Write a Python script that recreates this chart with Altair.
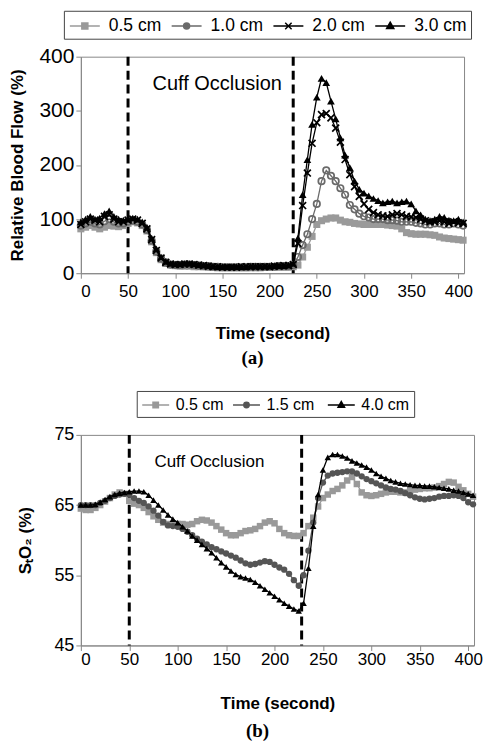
import altair as alt
import pandas as pd

# ---------------- data ----------------
T = list(range(0, 406, 5))  # sample times (s), 0..405

A_NAMES = ["0.5 cm", "1.0 cm", "2.0 cm", "3.0 cm"]
A05 = [82, 85, 88, 85, 82, 85, 88, 87, 86, 88,
       92, 95, 93, 88, 78, 58, 38, 25, 18, 15,
       14, 13, 13, 13, 12, 12, 12, 11, 11, 10,
       10, 10, 10, 10, 10, 10, 10, 10, 10, 11,
       11, 11, 11, 11, 11, 12, 15, 30, 48, 68,
       90, 97, 100, 102, 102, 98, 95, 94, 92, 91,
       90, 90, 90, 90, 90, 89, 88, 87, 82, 75,
       73, 72, 72, 72, 71, 70, 67, 65, 64, 63,
       62, 61]
A10 = [88, 92, 95, 92, 90, 96, 100, 95, 92, 92,
       95, 97, 95, 90, 80, 60, 40, 27, 20, 16,
       15, 15, 16, 16, 15, 14, 13, 13, 12, 12,
       11, 11, 11, 11, 11, 11, 12, 12, 12, 12,
       12, 12, 13, 13, 13, 15, 30, 52, 72, 100,
       128, 170, 190, 180, 170, 157, 145, 126, 118, 110,
       105, 103, 100, 100, 100, 98, 98, 97, 95, 95,
       95, 93, 92, 90, 90, 92, 92, 90, 90, 92,
       90, 88]
A20 = [90, 95, 100, 98, 95, 105, 108, 100, 95, 95,
       98, 100, 98, 92, 82, 62, 42, 28, 20, 17,
       16, 16, 17, 17, 16, 15, 14, 13, 12, 12,
       11, 11, 11, 11, 12, 12, 12, 12, 12, 12,
       12, 13, 13, 14, 14, 16, 55, 125, 185, 240,
       278, 293, 295, 287, 268, 242, 210, 182, 160, 142,
       128, 118, 112, 108, 106, 105, 108, 110, 108, 105,
       104, 103, 100, 97, 95, 95, 97, 95, 92, 95,
       93, 92]
A30 = [95, 100, 105, 100, 102, 110, 115, 105, 100, 98,
       100, 102, 100, 95, 85, 65, 45, 30, 22, 18,
       17, 17, 18, 18, 17, 16, 15, 14, 13, 12,
       12, 12, 12, 12, 12, 12, 13, 13, 13, 13,
       13, 14, 14, 14, 15, 18, 65, 145, 210, 275,
       325, 360, 352, 318, 285, 250, 218, 195, 170, 155,
       148, 143, 138, 134, 130, 132, 133, 130, 132, 133,
       128, 115, 108, 100, 97, 100, 105, 103, 98, 97,
       100, 95]

B_NAMES = ["0.5 cm", "1.5  cm", "4.0 cm"]
B05 = [64.5, 64.3, 64.3, 64.6, 65.0, 65.5, 66.0, 66.5, 66.8, 66.6,
       65.6, 65.2, 65.0, 64.6, 64.0, 63.4, 62.9, 62.5, 62.3, 62.2,
       62.3, 62.3, 62.2, 62.3, 62.7, 62.9, 62.8, 62.5, 62.0, 61.5,
       61.0, 60.7, 60.7, 61.0, 61.3, 61.4, 61.6, 62.0, 62.5, 62.7,
       62.4, 61.6, 61.0, 60.7, 60.6, 60.6, 61.0, 62.0, 63.2, 64.8,
       66.0, 66.5, 67.0, 67.3, 67.8, 68.5, 69.0, 68.0, 66.8, 66.4,
       66.3, 66.4, 66.6, 66.8, 66.9, 66.9, 66.8, 66.8, 67.0, 67.2,
       67.3, 67.4, 67.4, 67.5, 67.7, 68.0, 68.3, 68.2, 67.6, 67.1,
       66.6, 66.2]
B15 = [65.0, 65.0, 65.0, 65.0, 65.3, 65.6, 66.0, 66.3, 66.5, 66.6,
       66.5, 66.0, 65.6, 65.3, 64.8, 64.2, 63.5, 62.6, 62.1, 62.0,
       61.9, 61.6, 61.2, 60.7, 60.2, 59.8, 59.4, 59.0, 58.7, 58.4,
       58.1, 57.8, 57.5, 57.1, 56.7, 56.5, 56.6, 56.8, 57.0, 56.9,
       56.5, 56.1, 55.8, 55.2, 54.3, 53.5, 55.0, 58.5, 62.5, 66.0,
       68.2, 69.2, 69.5, 69.6, 69.7, 69.8, 69.8, 69.5, 69.1, 68.7,
       68.4, 68.1, 67.8, 67.5, 67.3, 67.2, 67.0, 66.7, 66.4, 66.1,
       65.9, 65.8, 65.9, 66.0, 66.2, 66.3, 66.3, 66.4, 66.3, 66.0,
       65.4, 65.1]
B40 = [65.0, 65.0, 65.0, 65.1, 65.4, 65.8, 66.2, 66.5, 66.7, 66.8,
       66.9, 67.0, 67.0, 66.9, 66.4, 65.7, 65.0, 64.3, 63.6, 63.0,
       62.5, 61.9, 61.3, 60.6, 60.0, 59.4, 58.8, 58.2, 57.5, 56.8,
       56.2, 55.6, 55.1, 54.8, 54.6, 54.4, 54.0, 53.5, 53.0, 52.5,
       52.0, 51.5, 51.0, 50.6, 50.2, 49.9, 51.0, 56.0, 62.0, 66.5,
       70.0, 71.8, 72.2, 72.2, 72.0, 71.7, 71.3, 71.0, 70.7, 70.4,
       70.0, 69.5, 69.1, 68.8, 68.5, 68.3, 68.1, 68.0, 67.9, 67.8,
       67.8, 67.7, 67.7, 67.6, 67.5, 67.4, 67.3, 67.1, 67.0, 66.8,
       66.6, 66.4]

X_TICKS = [0, 50, 100, 150, 200, 250, 300, 350, 400]
A_YTICKS = [0, 100, 200, 300, 400]
B_YTICKS = [45, 55, 65, 75]
A_EVENTS = [50, 225]
B_EVENTS = [50, 228]
NOTE_LABEL = ["Cuff Occlusion"]
A_NOTE_T, A_NOTE_V = [76], [350]
B_NOTE_T, B_NOTE_V = [76], [71.1]

FONT = "Liberation Sans"

# styles
A_COLORS = ["#9a9a9a", "#6a6a6a", "#000000", "#000000"]
A_SHAPES = ["square", "circle", "M-1,-1L1,1M-1,1L1,-1", "triangle-up"]
A_FILLED = [True, False, False, True]
A_SIZES = [50, 42, 48, 60]
B_COLORS = ["#999999", "#555555", "#000000"]
B_SHAPES = ["square", "circle", "triangle-up"]
B_FILLED = [True, True, True]
B_SIZES = [42, 40, 42]

LEG_SQ = "M-1.5,0H1.5M-0.3,-0.3H0.3V0.3H-0.3Z"
LEG_CI = "M-1.5,0H1.5M-0.3,0A0.3,0.3 0 1,0 0.3,0A0.3,0.3 0 1,0 -0.3,0Z"
LEG_X = "M-1.5,0H1.5M-0.32,-0.32L0.32,0.32M-0.32,0.32L0.32,-0.32"
LEG_TR = "M-1.5,0H1.5M0,-0.38L0.36,0.26H-0.36Z"
A_LEG = [LEG_SQ, LEG_CI, LEG_X, LEG_TR]
B_LEG = [LEG_SQ, LEG_CI, LEG_TR]


def long_df(names, series):
    rows = []
    for n, vals in zip(names, series):
        assert len(vals) == len(T), (n, len(vals))
        for t, v in zip(T, vals):
            rows.append({"series": n, "t": t, "v": v})
    return pd.DataFrame(rows)


def panel(names, series, colors, shapes, filled, sizes, leg_paths, events,
          note_t, note_v, note_size, ydom, yticks, ytitle, ylabel_size,
          ytitle_pad, xlabel_pad, xtitle_pad, width, height, caption,
          caption_offset, leg):
    df = long_df(names, series)
    x = alt.X("t:Q", scale=alt.Scale(domain=[0, 406], nice=False),
              axis=alt.Axis(values=X_TICKS, title="Time (second)", grid=False,
                            labelFont=FONT, labelFontSize=17, titleFont=FONT,
                            titleFontSize=17, titleFontWeight="bold",
                            tickSize=5, labelPadding=xlabel_pad,
                            titlePadding=xtitle_pad,
                            domainColor="#888888", tickColor="#888888",
                            labelColor="black", titleColor="black"))
    y = alt.Y("v:Q", scale=alt.Scale(domain=ydom, nice=False),
              axis=alt.Axis(values=yticks, title=ytitle, grid=False,
                            labelFont=FONT, labelFontSize=ylabel_size,
                            titleFont=FONT, titleFontSize=17,
                            titleFontWeight="bold", tickSize=5,
                            labelPadding=2, titlePadding=ytitle_pad,
                            domainColor="#888888", tickColor="#888888",
                            labelColor="black", titleColor="black"))
    layers = []
    layers.append(
        alt.Chart(pd.DataFrame({"t": events}))
        .mark_rule(color="black", strokeWidth=3, strokeDash=[9, 5])
        .encode(x=x)
    )
    for n, c, sh, fl, sz in zip(names, colors, shapes, filled, sizes):
        sub = alt.Chart(df).transform_filter(alt.datum.series == n)
        layers.append(sub.mark_line(color=c, strokeWidth=1.3).encode(x=x, y=y))
        layers.append(
            sub.mark_point(shape=sh, filled=fl, color=c, size=sz, opacity=1,
                           strokeWidth=1.7).encode(x=x, y=y)
        )
    layers.append(
        alt.Chart(pd.DataFrame({"label": NOTE_LABEL, "t": note_t, "v": note_v}))
        .mark_text(align="left", baseline="middle", font=FONT,
                   fontSize=note_size, color="black")
        .encode(x=x, y=y, text="label:N")
    )
    legend = alt.Legend(**leg)
    layers.append(
        alt.Chart(pd.DataFrame({"series": names}))
        .mark_point(filled=True, opacity=0)
        .encode(
            color=alt.Color("series:N", scale=alt.Scale(domain=names, range=colors), legend=legend),
            stroke=alt.Stroke("series:N", scale=alt.Scale(domain=names, range=colors), legend=legend),
            shape=alt.Shape("series:N", scale=alt.Scale(domain=names, range=leg_paths), legend=legend),
        )
    )
    return alt.layer(*layers).properties(
        width=width, height=height,
        title=alt.TitleParams(text=caption, orient="bottom", font="Liberation Serif",
                              fontSize=19, fontWeight="bold",
                              offset=caption_offset, dx=-20, color="black"),
    )


LEG_A = dict(orient="none", legendX=-17, legendY=-46, direction="horizontal",
             title=None, strokeColor="#444444", fillColor="white", padding=4,
             labelFont=FONT, labelFontSize=17.5, labelColor="black",
             symbolSize=400, symbolStrokeWidth=1.5, symbolOpacity=1,
             symbolOffset=6, labelOffset=13, columnPadding=7)
LEG_B = dict(orient="none", legendX=56, legendY=-44, direction="horizontal",
             title=None, strokeColor="#444444", fillColor="white", padding=4,
             labelFont=FONT, labelFontSize=16, labelColor="black",
             symbolSize=324, symbolStrokeWidth=1.5, symbolOpacity=1,
             symbolOffset=5, labelOffset=10, columnPadding=5)

top = panel(A_NAMES, [A05, A10, A20, A30], A_COLORS, A_SHAPES, A_FILLED, A_SIZES,
            A_LEG, A_EVENTS, A_NOTE_T, A_NOTE_V, 20, [0, 400], A_YTICKS,
            "Relative Blood Flow (%)", 21, 12, 5, 26, 384, 217, "(a)", 8, LEG_A)
bottom = panel(B_NAMES, [B05, B15, B40], B_COLORS, B_SHAPES, B_FILLED, B_SIZES,
               B_LEG, B_EVENTS, B_NOTE_T, B_NOTE_V, 17, [45, 75], B_YTICKS,
               "S\u209cO\u2082 (%)", 18, 19, 1, 28, 394, 211, "(b)", 11, LEG_B)

chart = (
    alt.vconcat(top, bottom, spacing=162, bounds="flush")
    .resolve_scale(color="independent", stroke="independent", shape="independent")
    .resolve_legend(color="independent", stroke="independent", shape="independent")
    .properties(padding={"top": 1, "left": 0, "right": 0, "bottom": 2},
                background="white")
    .configure_view(stroke="#888888", strokeWidth=1)
)

chart.save("out.html", embed_options={"renderer": "svg", "actions": False})
